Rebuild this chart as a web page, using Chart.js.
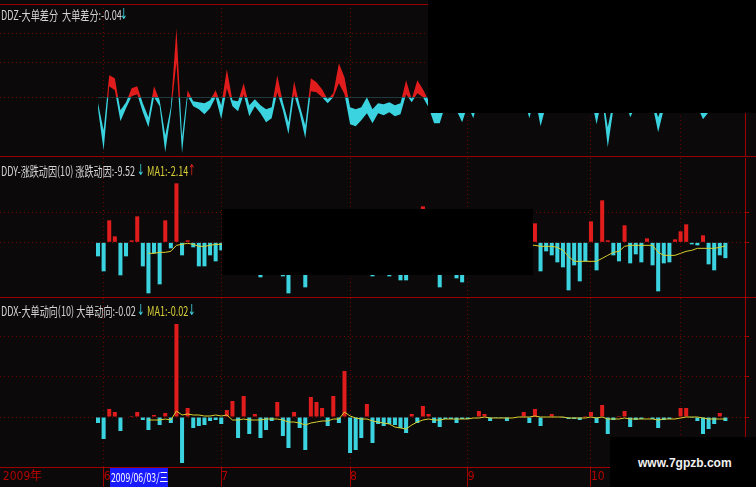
<!DOCTYPE html>
<html lang="zh-CN">
<head>
<meta charset="utf-8">
<title>DDZ / DDY / DDX</title>
<script src="https://cdn.jsdelivr.net/npm/chart.js@4.4.1/dist/chart.umd.min.js"></script>
<style>
    html, body { margin: 0; padding: 0; }
    body { width: 756px; height: 487px; background: #0b0909; position: relative; overflow: hidden; font-family: "Noto Sans CJK SC", sans-serif; }
    .pane { position: absolute; left: 0; width: 756px; }
    .pane canvas { display: block; }
    .hl { position: absolute; left: 0; width: 756px; height: 1px; background: #9a0000; }
    .tx { position: absolute; font-size: 13px; line-height: 15px; color: #d4d4d4; white-space: nowrap; transform: scaleX(0.7); transform-origin: 0 0; }
    .ma { color: #d6cf3a; }
    .arr { position: absolute; font: 15px "DejaVu Sans", sans-serif; line-height: 15px; transform: scaleX(0.6); transform-origin: 0 0; }
    .dn { color: #3fd3e0; }
    .up { color: #e02020; }
    .mask { position: absolute; background: #000; }
    #cursorDate { position: absolute; left: 110px; top: 468px; width: 58px; height: 19px; background: #1a1aff; }
    #cursorDate span { position: absolute; left: 1px; top: 2px; font-size: 12px; line-height: 14px; color: #fff; white-space: nowrap; transform: scaleX(0.72); transform-origin: 0 0; }
    #site { position: absolute; left: 638px; top: 456px; font: bold 12px "Liberation Sans", Arial, sans-serif; color: #f2f2f2; }
</style>
</head>
<body>

<div class="pane" style="top:0;height:157px"><canvas id="ddzChart" width="756" height="157"></canvas></div>
<div class="pane" style="top:157px;height:140px"><canvas id="ddyChart" width="756" height="140"></canvas></div>
<div class="pane" style="top:296px;height:191px"><canvas id="ddxChart" width="756" height="191"></canvas></div>

<div class="hl" style="top:4px"></div>
<div class="hl" style="top:156px"></div>
<div class="hl" style="top:297px"></div>

<div class="tx" style="left:1px;top:7px">DDZ-大单差分&nbsp;&nbsp;大单差分:-0.04</div>
<div class="arr dn" style="left:120px;top:7px">↓</div>

<div class="tx" style="left:1px;top:163px">DDY-涨跌动因(10)&nbsp;涨跌动因:-9.52</div>
<div class="arr dn" style="left:137px;top:163px">↓</div>
<div class="tx ma" style="left:147px;top:163px">MA1:-2.14</div>
<div class="arr up" style="left:188px;top:163px">↑</div>

<div class="tx" style="left:1px;top:303px">DDX-大单动向(10)&nbsp;大单动向:-0.02</div>
<div class="arr dn" style="left:137px;top:303px">↓</div>
<div class="tx ma" style="left:147px;top:303px">MA1:-0.02</div>
<div class="arr dn" style="left:188px;top:303px">↓</div>

<div class="mask" style="left:428px;top:0;width:328px;height:113px"></div>
<div class="mask" style="left:222px;top:209px;width:311px;height:66px"></div>
<div class="mask" style="left:610px;top:437px;width:146px;height:50px"></div>
<div id="cursorDate"><span>2009/06/03/三</span></div>
<div id="site">www.7gpzb.com</div>

<script>
// day slots across the plot; first traded day sits at slot 17
const slots = 133
const lead = 17
const maStart = 26

// x axis: year label at slot 0, month starts
const yearText = '2009年'
const monthIdx = [18, 39, 62, 83, 105, 121]
const monthText = ['6', '7', '8', '9', '10', '11']

// DDZ band (upper / lower edge), slots 17..129
const ddzHigh = [
    -0.06, -0.33, 0.22, 0.19, -0.13, -0.05, 0.09, 0.11, -0.06, -0.20,
    0.11, -0.03, -0.38, -0.10, 0.69, -0.40, 0.07, -0.04, -0.05, -0.06,
    -0.03, 0.07, -0.08, 0.28, -0.03, -0.04, 0.14, -0.08, -0.02, -0.08,
    -0.12, -0.10, 0.22, -0.05, -0.25, 0.16, -0.08, -0.28, 0.19, 0.15,
    0.08, -0.02, 0.04, 0.34, 0.20, -0.10, -0.12, -0.10, 0.00, -0.12,
    -0.06, -0.07, -0.05, -0.08, -0.06, 0.17, -0.02, 0.17, 0.08, -0.03,
    -0.14, -0.15, -0.02, 0.04, -0.05, -0.12, -0.02, -0.10, 0.06, 0.03,
    -0.03, -0.02, -0.03, -0.04, -0.01, -0.02, 0.05, -0.09, 0.06, -0.15,
    -0.02, 0.03, -0.02, -0.02, -0.03, -0.03, -0.04, 0.01, 0.05, -0.14,
    0.06, -0.30, -0.03, 0.01, 0.06, -0.09, -0.03, -0.02, -0.01, -0.03,
    -0.20, -0.04, -0.03, 0.01, 0.08, 0.09, -0.01, -0.03, -0.10, -0.08,
    -0.05, 0.03, -0.03
]
const ddzLow = [
    -0.12, -0.53, 0.11, 0.07, -0.24, -0.11, 0.01, 0.03, -0.15, -0.30,
    0.00, -0.09, -0.55, -0.16, 0.35, -0.56, 0.01, -0.09, -0.12, -0.17,
    -0.11, 0.00, -0.22, 0.09, -0.09, -0.14, 0.03, -0.19, -0.09, -0.16,
    -0.25, -0.21, 0.05, -0.13, -0.37, 0.03, -0.16, -0.41, 0.06, 0.05,
    0.00, -0.06, 0.00, 0.14, 0.03, -0.27, -0.29, -0.23, -0.16, -0.26,
    -0.16, -0.18, -0.15, -0.19, -0.17, 0.03, -0.05, 0.04, 0.00, -0.10,
    -0.26, -0.26, -0.08, -0.02, -0.13, -0.25, -0.08, -0.21, 0.01, -0.01,
    -0.09, -0.07, -0.08, -0.10, -0.06, -0.07, 0.00, -0.21, 0.01, -0.29,
    -0.08, -0.02, -0.07, -0.08, -0.09, -0.09, -0.10, -0.04, 0.00, -0.27,
    0.00, -0.50, -0.12, -0.04, 0.01, -0.20, -0.09, -0.07, -0.06, -0.08,
    -0.35, -0.12, -0.09, -0.03, 0.02, 0.03, -0.06, -0.09, -0.22, -0.15,
    -0.11, -0.02, -0.07
]

// DDY bars (slots 17..129) and its MA (slots 26..129)
const ddyVal = [
    -8.4, -17.4, 13.2, 3.6, -19.8, -8.4, 1.2, 15.6, -14.4, -30.6,
    -6.6, -25.2, 13.2, -3.6, 35.4, -7.8, 1.2, -3.0, -14.4, -14.4,
    -7.8, -11.4, -4.8, 7.2, 15.0, -12.0, 16.8, -13.2, 3.0, -21.0,
    -10.8, -4.8, 12.0, -20.4, -30.6, 4.8, -9.0, -27.0, 15.0, 12.0,
    7.2, -7.2, 15.6, -6.0, 18.0, -18.0, -18.0, -15.0, 10.8, -20.4,
    -6.0, -7.2, -20.4, -6.6, -22.8, -22.8, 3.0, -5.4, 21.6, 2.4,
    -7.2, -27.0, -2.4, -3.0, -21.6, -24.0, -3.0, -1.8, 6.0, 3.6,
    -4.8, -1.8, -1.2, -5.4, -0.6, -1.2, 5.4, -7.2, 11.4, -17.4,
    -5.4, -7.8, -12.0, -15.0, -28.8, -13.8, -23.4, -11.4, 12.6, -16.8,
    25.2, 1.2, -7.8, -11.4, 10.2, -12.6, -7.2, -12.0, 2.4, -13.8,
    -29.4, -12.6, -12.0, 1.8, 6.6, 10.8, -1.2, -1.8, 4.2, -13.2,
    -16.8, -7.8, -9.5
]
const ddyMa = [
    -6.6, -6.6, -6, -6, -5.4, -1.8, -1.2, -0.6, -1.2, -2.4,
    -2.4, -1.8, -1.2, -1.2, -1.2, 0, -1.8, -0.6, -1.2, -0.6,
    -2.4, -3, -3, -2.4, -4.2, -6, -5.4, -6, -7.2, -6,
    -4.8, -4.2, -4.2, -3, -3.6, -0.6, -1.8, -3, -3.6, -3,
    -4.8, -5.4, -6, -7.2, -7.2, -8.4, -9.6, -8.4, -7.8, -4.8,
    -4.2, -4.8, -6, -6, -5.4, -6.6, -7.8, -6.6, -5.4, -4.2,
    -4.2, -3.6, -3, -2.4, -2.4, -1.8, -1.2, -1.8, -1.8, -1.8,
    -2.4, -2.4, -2.4, -3, -4.8, -8.4, -11.4, -11.4, -11.4, -11.4,
    -11.4, -9.6, -7.8, -6, -5.4, -2.4, -1.8, -1.8, -1.8, -1.8,
    -1.8, -6, -7.8, -7.8, -7.8, -6.6, -5.4, -4.8, -3.6, -3.6,
    -3.6, -3.6, -3.0, -2.1
]

// DDX bars (slots 17..129) and its MA (slots 26..129)
const ddxVal = [
    -0.06, -0.22, 0.08, 0.05, -0.14, 0, 0.01, 0.05, -0.03, -0.13,
    0.02, -0.08, 0.04, -0.06, 0.93, -0.46, 0.09, -0.11, -0.09, -0.08,
    -0.04, -0.03, -0.07, 0.07, 0.16, -0.21, 0.21, -0.17, 0.03, -0.21,
    -0.13, -0.04, 0.15, -0.19, -0.31, 0.05, -0.11, -0.33, 0.20, 0.15,
    0.09, -0.09, 0.21, -0.06, 0.46, -0.36, -0.33, -0.21, 0.13, -0.26,
    -0.07, -0.09, -0.07, -0.08, -0.11, -0.16, 0.03, -0.06, 0.11, 0.03,
    -0.06, -0.10, -0.02, -0.02, -0.06, -0.02, -0.02, 0, 0.06, 0.03,
    -0.04, -0.01, -0.01, -0.04, 0, 0, 0.05, -0.06, 0.08, -0.09,
    0, 0.03, 0, -0.01, -0.02, -0.02, -0.03, 0.01, 0.05, -0.06,
    0.12, -0.17, -0.03, 0.01, 0.06, -0.10, -0.03, -0.02, 0, -0.02,
    -0.11, -0.03, -0.02, 0, 0.09, 0.09, -0.01, -0.04, -0.17, -0.12,
    -0.07, 0.04, -0.04
]
const ddxMa = [
    -0.03, -0.03, -0.03, -0.02, -0.03, 0.06, 0.02, 0.03, 0.02, 0.02,
    0.01, 0.01, 0.02, 0.01, 0.02, -0.03, -0.03, -0.02, -0.03, -0.03,
    -0.03, -0.02, -0.02, -0.02, -0.03, -0.05, -0.05, -0.06, -0.08, -0.06,
    -0.05, -0.04, -0.04, -0.02, -0.02, 0.05, 0.01, -0.01, -0.02, -0.02,
    -0.04, -0.05, -0.06, -0.07, -0.10, -0.11, -0.12, -0.08, -0.05, -0.03,
    -0.02, -0.03, -0.03, -0.02, -0.02, -0.02, -0.02, -0.02, -0.01, -0.01,
    0, -0.01, -0.01, -0.01, -0.01, -0.01, 0, 0, 0, 0.01,
    0, 0, 0, 0, 0, -0.01, -0.01, -0.01, -0.01, 0,
    -0.01, 0, -0.02, -0.02, -0.02, -0.01, -0.02, -0.02, -0.02, -0.02,
    -0.02, -0.03, -0.02, -0.02, -0.02, -0.01, 0, 0, 0, -0.01,
    -0.02, -0.02, -0.02, -0.02
]

// y grid values per pane
const ddzTicks = [0, 0.35, 0.64]
const ddyTicks = [0, 18]
const ddxTicks = [0, 0.4, 0.8]

const bg = '#0b0909'
const upRed = '#e01c1c'
const downCyan = '#3ad3df'
const maYellow = '#d8d030'
const axisRed = '#a00000'
const gridRed = '#6e0000'
const labelRed = '#b40000'

const labels = Array(slots).fill('')
labels[0] = yearText
monthIdx.forEach((m, k) => { labels[m] = monthText[k] })

const pad = (arr, start) => Array(start).fill(null).concat(arr, Array(slots - start - arr.length).fill(null))

const xScale = (withLabels) => ({
    type: 'category',
    offset: true,
    afterBuildTicks: (s) => { s.ticks = (withLabels ? [0].concat(monthIdx) : monthIdx).map(v => ({ value: v })) },
    afterFit: (s) => { s.height = withLabels ? 20 : 0 },
    grid: {
        offset: false,
        color: (c) => c.tick && c.tick.value === 0 ? 'transparent' : gridRed,
        drawTicks: withLabels,
        tickLength: 20,
        tickColor: (c) => c.tick && c.tick.value === 0 ? 'transparent' : axisRed,
        tickBorderDash: []
    },
    border: { display: withLabels, color: axisRed, dash: [1, 3] },
    ticks: {
        display: withLabels,
        autoSkip: false,
        maxRotation: 0,
        align: 'start',
        padding: -17,
        labelOffset: 0,
        color: labelRed,
        font: { family: '"Liberation Sans Narrow", "DejaVu Sans Condensed", sans-serif', size: 12 }
    }
})

const yScale = (min, max, tickVals) => ({
    position: 'right',
    min: min,
    max: max,
    afterBuildTicks: (s) => { s.ticks = tickVals.map(v => ({ value: v })) },
    afterFit: (s) => { s.width = 11 },
    ticks: { display: false },
    grid: { color: gridRed, drawTicks: true, tickLength: 4, tickColor: axisRed, tickBorderDash: [] },
    border: { display: true, color: axisRed, dash: [1, 3] }
})

const baseOptions = (padding, x, y) => ({
    responsive: false,
    animation: false,
    devicePixelRatio: 1,
    events: [],
    layout: { padding: padding },
    plugins: { legend: { display: false }, tooltip: { enabled: false } },
    scales: { x: x, y: y }
})

const barColor = (c) => c.raw >= 0 ? upRed : downCyan

// DDZ: band between two curves, red above zero and cyan below
new Chart(document.getElementById('ddzChart'), {
    type: 'line',
    data: {
        labels: labels,
        datasets: [
            { data: pad(ddzHigh, lead), order: 1, borderWidth: 0, pointRadius: 0, tension: 0,
              fill: { target: 'origin', above: 'transparent', below: bg } },
            { data: pad(ddzLow, lead), order: 2, borderWidth: 0, pointRadius: 0, tension: 0,
              fill: { target: 'origin', above: bg, below: downCyan } },
            { data: pad(ddzHigh, lead), order: 3, borderWidth: 0, pointRadius: 0, tension: 0,
              fill: { target: 'origin', above: upRed, below: 'transparent' } }
        ]
    },
    options: baseOptions({ top: 4, bottom: 2, left: 0, right: 0 }, xScale(false), yScale(-0.577, 0.933, ddzTicks))
})

new Chart(document.getElementById('ddyChart'), {
    type: 'bar',
    data: {
        labels: labels,
        datasets: [
            { type: 'line', data: pad(ddyMa, maStart), order: 0, borderColor: maYellow, borderWidth: 1, pointRadius: 0, tension: 0 },
            { data: pad(ddyVal, lead), order: 1, backgroundColor: barColor, barPercentage: 0.72, categoryPercentage: 1 }
        ]
    },
    options: baseOptions({ top: 1, bottom: 1, left: 0, right: 0 }, xScale(false), yScale(-32.2, 50.6, ddyTicks))
})

new Chart(document.getElementById('ddxChart'), {
    type: 'bar',
    data: {
        labels: labels,
        datasets: [
            { type: 'line', data: pad(ddxMa, maStart), order: 0, borderColor: maYellow, borderWidth: 1, pointRadius: 0, tension: 0 },
            { data: pad(ddxVal, lead), order: 1, backgroundColor: barColor, barPercentage: 0.72, categoryPercentage: 1 }
        ]
    },
    options: baseOptions({ top: 2, bottom: 0, left: 0, right: 0 }, xScale(true), yScale(-0.50, 1.19, ddxTicks))
})
</script>
</body>
</html>
